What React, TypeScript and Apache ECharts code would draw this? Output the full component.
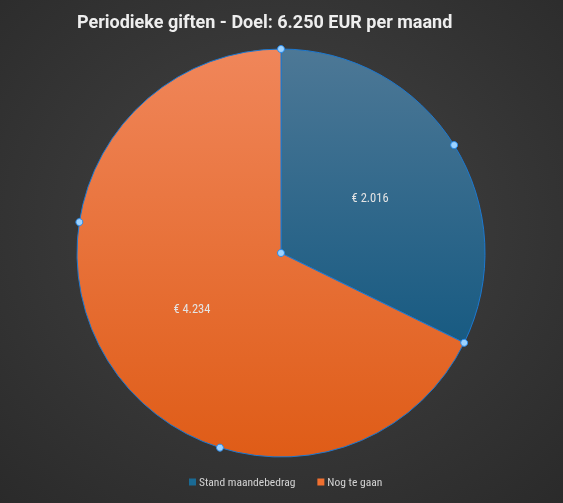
import { useEffect, useRef } from "react";
import * as echarts from "echarts";

const categories = ["Stand maandebedrag", "Nog te gaan"];
const values = [2016, 4234];
const titleText = "Periodieke giften - Doel: 6.250 EUR per maand";

const gradients = [
  ["#4d7896", "#034f7a"],
  ["#f0865a", "#df5c17"],
];
const legendColors = ["#1a6a94", "#f07030"];

function App() {
  const chartRef = useRef<HTMLDivElement>(null);

  useEffect(() => {
    const chart = echarts.init(chartRef.current, null, { renderer: "svg" });

    // handle points along the outline: slice edges + evenly split arcs
    const total = values.reduce((a, b) => a + b, 0);
    const handles: number[][] = [[0, 0]];
    let start = 0;
    values.forEach((v) => {
      const span = (v / total) * 360;
      const n = Math.ceil(span / 90);
      for (let i = 0; i < n; i++) handles.push([1, start + (span * i) / n]);
      start += span;
    });

    const option: echarts.EChartsOption = {
      animation: false,
      backgroundColor: {
        type: "radial",
        x: 0.5,
        y: 0.45,
        r: 0.75,
        colorStops: [
          { offset: 0, color: "#444444" },
          { offset: 1, color: "#2a2a2a" },
        ],
      },
      title: {
        text: titleText,
        left: 72,
        top: 7,
        textStyle: {
          color: "#eeeeee",
          fontSize: 18,
          fontWeight: "bold",
          fontFamily: "Roboto, sans-serif",
        },
      },
      legend: {
        bottom: 10,
        left: 184,
        itemWidth: 7,
        itemHeight: 7,
        itemGap: 22,
        icon: "rect",
        data: categories.map((name, i) => ({
          name,
          itemStyle: { color: legendColors[i], borderWidth: 0 },
        })),
        textStyle: {
          color: "#d4d4d4",
          fontSize: 11.5,
          fontFamily: "Roboto Condensed, sans-serif",
          padding: [0, 0, 0, -2],
        },
      },
      polar: { center: [281, 253], radius: 204 },
      angleAxis: {
        type: "value",
        min: 0,
        max: 360,
        startAngle: 90,
        clockwise: true,
        show: false,
      },
      radiusAxis: { type: "value", min: 0, max: 1, show: false },
      series: [
        {
          type: "pie",
          center: [281, 253],
          radius: 204,
          startAngle: 90,
          clockwise: true,
          label: {
            position: "inside",
            color: "#e4e4e4",
            fontSize: 12.5,
            fontFamily: "Roboto Condensed, sans-serif",
            formatter: (p: any) =>
              "€ " + p.value.toLocaleString("nl-NL"),
          },
          labelLine: { show: false },
          emphasis: { disabled: true },
          itemStyle: { borderColor: "#1c78d0", borderWidth: 1 },
          data: categories.map((name, i) => ({
            name,
            value: values[i],
            itemStyle: {
              color: {
                type: "linear",
                x: 0,
                y: 49,
                x2: 0,
                y2: 457,
                global: true,
                colorStops: [
                  { offset: 0, color: gradients[i][0] },
                  { offset: 1, color: gradients[i][1] },
                ],
              },
            },
          })),
        },
        {
          type: "scatter",
          coordinateSystem: "polar",
          symbolSize: 7,
          silent: true,
          itemStyle: { color: "#9dd2ff", borderColor: "#2a8cec", borderWidth: 1, opacity: 1 },
          data: handles,
          z: 5,
        },
      ],
    };

    chart.setOption(option);
    return () => chart.dispose();
  }, []);

  return (
    <div
      ref={chartRef}
      style={{ position: "fixed", left: 0, top: 0, width: 563, height: 503 }}
    ></div>
  );
}

export default App;
